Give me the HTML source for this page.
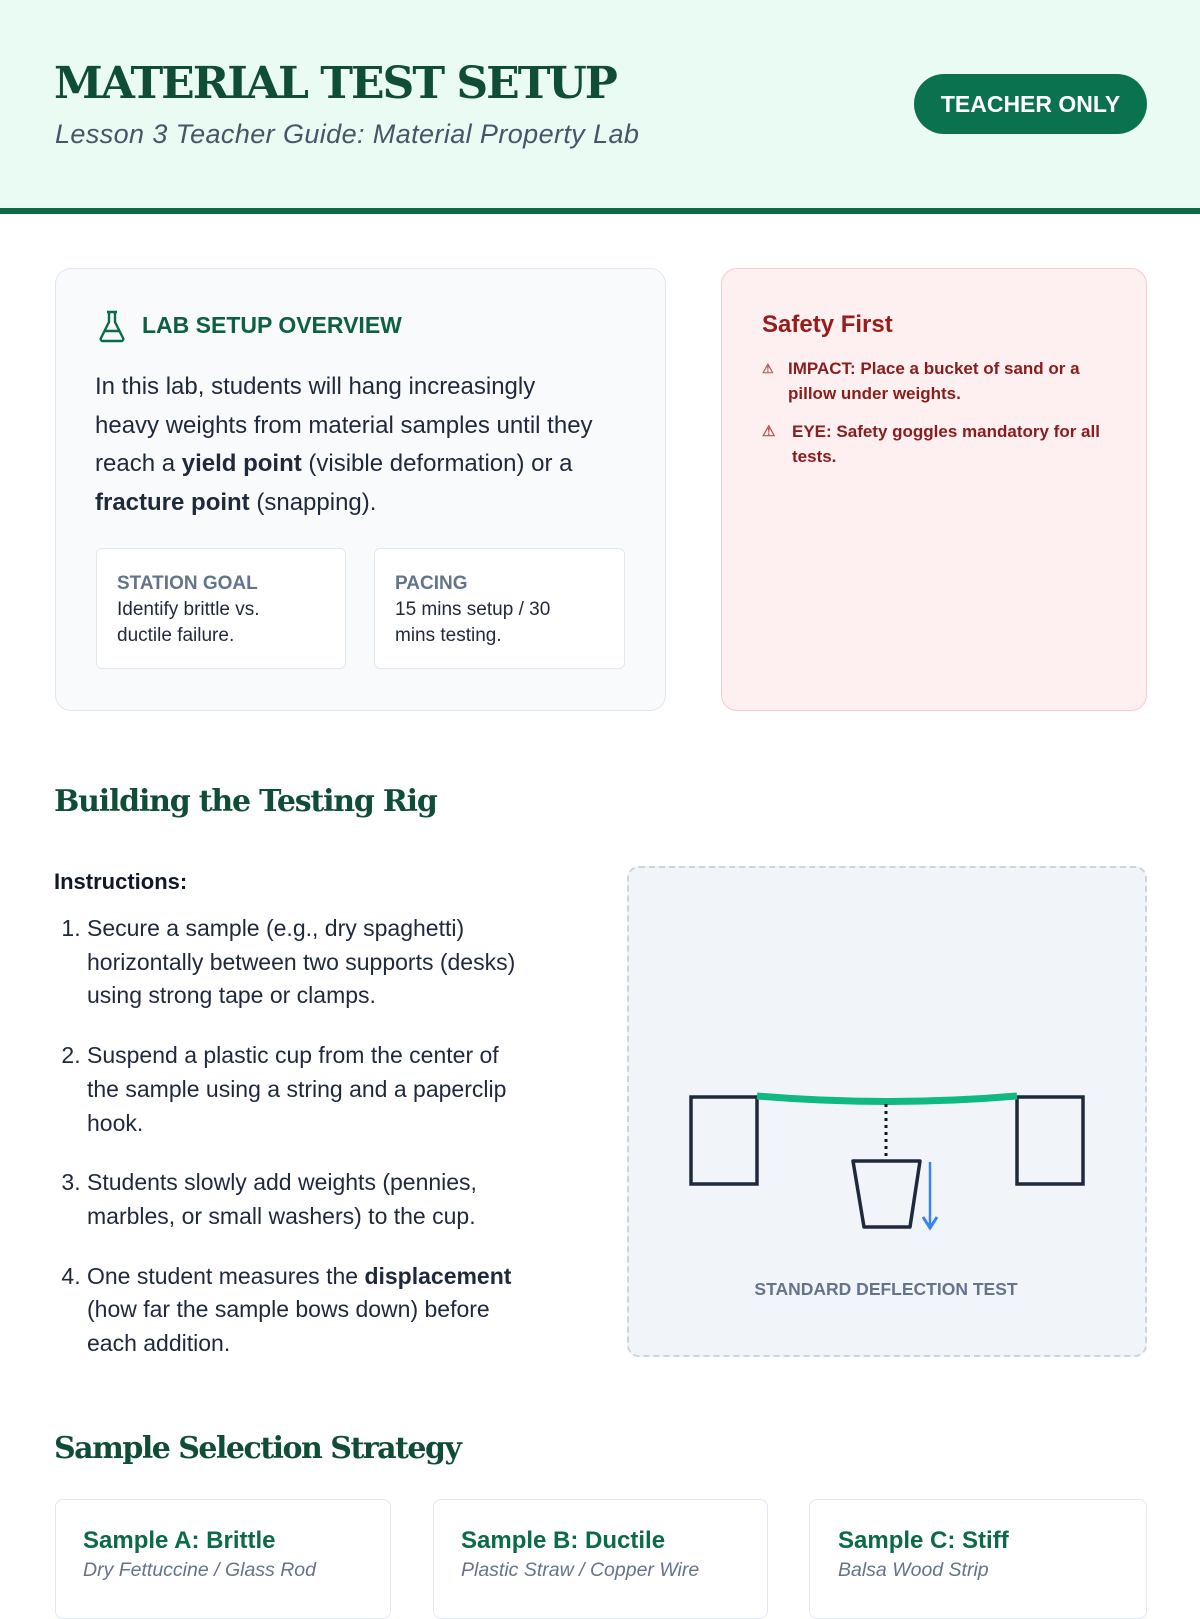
<!DOCTYPE html>
<html><head><meta charset="utf-8"><style>
*{box-sizing:border-box;margin:0;padding:0}
body{width:1200px;height:1600px;background:#fff;font-family:"Liberation Sans",sans-serif;color:#1e293b;position:relative;overflow:hidden}
.abs{position:absolute}
.hdr{left:0;top:0;width:1200px;height:214px;background:#e9fbf3;border-bottom:6px solid #0b6b47}
.serif{font-family:"DejaVu Serif","Liberation Serif",serif;font-weight:bold;color:#0f4d36}
.sub{background:#fff;border:1px solid #e2e8f0;border-radius:6px;padding:22px 20px;font-size:19px;line-height:26px}
</style></head><body>
<div class="abs hdr"></div>
<div class="abs serif" style="left:54px;top:58px;font-size:44px;letter-spacing:-2px">MATERIAL TEST SETUP</div>
<div class="abs" style="left:55px;top:119px;font-size:27px;font-style:italic;color:#475569;letter-spacing:0.4px">Lesson 3 Teacher Guide: Material Property Lab</div>
<div class="abs" style="left:914px;top:74px;width:233px;height:60px;border-radius:30px;background:#0b7250;color:#fff;font-weight:bold;font-size:23px;text-align:center;line-height:60px">TEACHER ONLY</div>

<div class="abs" style="left:55px;top:268px;width:611px;height:443px;background:#f8fafc;border:1px solid #e2e8f0;border-radius:16px"></div>
<svg class="abs" style="left:97px;top:309px" width="30" height="34" viewBox="0 0 30 34"><path d="M10 3h10M12 3v10L4 29a2 2 0 0 0 2 3h18a2 2 0 0 0 2-3L18 13V3M7 22h16" fill="none" stroke="#0b6b47" stroke-width="2.4" stroke-linejoin="round"/></svg>
<div class="abs" style="left:142px;top:312px;font-size:23px;font-weight:bold;color:#0f5f42">LAB SETUP OVERVIEW</div>
<div class="abs" style="left:95px;top:368px;width:505px;font-size:24px;line-height:38.5px;color:#1e293b">In this lab, students will hang increasingly heavy weights from material samples until they reach a <b>yield point</b> (visible deformation) or a <b>fracture point</b> (snapping).</div>
<div class="abs sub" style="left:96px;top:548px;width:250px;height:121px;padding-right:50px"><div style="font-weight:bold;color:#64748b">STATION GOAL</div>Identify brittle vs. ductile failure.</div>
<div class="abs sub" style="left:374px;top:548px;width:251px;height:121px;padding-right:50px"><div style="font-weight:bold;color:#64748b">PACING</div>15 mins setup / 30 mins testing.</div>

<div class="abs" style="left:721px;top:268px;width:426px;height:443px;background:#fef0f0;border:1px solid #fbcaca;border-radius:16px"></div>
<div class="abs" style="left:762px;top:311px;font-size:24px;font-weight:bold;color:#991b1b">Safety First</div>
<div class="abs" style="left:762px;top:356px;width:350px;font-size:17px;font-weight:bold;line-height:25px;color:#8b1c1c"><span style="position:absolute;left:0;font-size:13px;color:#b45454">⚠</span><div style="padding-left:26px">IMPACT: Place a bucket of sand or a pillow under weights.</div></div>
<div class="abs" style="left:762px;top:419px;width:350px;font-size:17px;font-weight:bold;line-height:25px;color:#8b1c1c"><span style="position:absolute;left:0;font-size:15px;color:#b45454">⚠</span><div style="padding-left:30px">EYE: Safety goggles mandatory for all tests.</div></div>

<div class="abs serif" style="left:54px;top:784px;font-size:30px;letter-spacing:-1.2px">Building the Testing Rig</div>
<div class="abs" style="left:54px;top:869px;font-size:22px;font-weight:bold;color:#111827">Instructions:</div>
<ol class="abs" style="left:58px;top:912px;width:469px;font-size:23px;line-height:33.7px;color:#1e293b;padding-left:29px">
<li style="margin-bottom:26px">Secure a sample (e.g., dry spaghetti) horizontally between two supports (desks) using strong tape or clamps.</li>
<li style="margin-bottom:26px">Suspend a plastic cup from the center of the sample using a string and a paperclip hook.</li>
<li style="margin-bottom:26px">Students slowly add weights (pennies, marbles, or small washers) to the cup.</li>
<li>One student measures the <b>displacement</b> (how far the sample bows down) before each addition.</li>
</ol>

<div class="abs" style="left:627px;top:866px;width:520px;height:491px;background:#f1f5f9;border:2.5px dashed #cbd5e1;border-radius:12px"></div>
<svg class="abs" style="left:0;top:0" width="1200" height="1600">
<rect x="691" y="1097" width="66" height="87" fill="none" stroke="#1e293b" stroke-width="3.5"/>
<rect x="1017" y="1097" width="66" height="87" fill="none" stroke="#1e293b" stroke-width="3.5"/>
<path d="M757 1096 Q887 1107 1017 1096" fill="none" stroke="#10b981" stroke-width="7"/>
<line x1="886" y1="1104" x2="886" y2="1160" stroke="#111827" stroke-width="3" stroke-dasharray="3,4"/>
<path d="M853 1161 L920 1161 L910 1227 L864 1227 Z" fill="none" stroke="#1e293b" stroke-width="3.5" stroke-linejoin="round"/>
<line x1="930" y1="1162" x2="930" y2="1226" stroke="#3b82f6" stroke-width="2.5"/>
<path d="M923 1217 L930 1228 L937 1217" fill="none" stroke="#3b82f6" stroke-width="3"/>
<text x="886" y="1295" text-anchor="middle" font-family="Liberation Sans" font-size="17.5" font-weight="bold" fill="#64748b">STANDARD DEFLECTION TEST</text>
</svg>

<div class="abs serif" style="left:54px;top:1431px;font-size:30px;letter-spacing:-1.5px">Sample Selection Strategy</div>
<div class="abs" style="left:55px;top:1499px;width:336px;height:120px;border:1px solid #e2e8f0;border-radius:8px;padding:27px 27px"><div style="font-size:24px;font-weight:bold;color:#0b6b47">Sample A: Brittle</div><div style="font-size:19.5px;font-style:italic;color:#64748b;margin-top:4px">Dry Fettuccine / Glass Rod</div></div>
<div class="abs" style="left:433px;top:1499px;width:335px;height:120px;border:1px solid #e2e8f0;border-radius:8px;padding:27px 27px"><div style="font-size:24px;font-weight:bold;color:#0b6b47">Sample B: Ductile</div><div style="font-size:19.5px;font-style:italic;color:#64748b;margin-top:4px">Plastic Straw / Copper Wire</div></div>
<div class="abs" style="left:809px;top:1499px;width:338px;height:120px;border:1px solid #e2e8f0;border-radius:8px;padding:27px 28px"><div style="font-size:24px;font-weight:bold;color:#0b6b47">Sample C: Stiff</div><div style="font-size:19.5px;font-style:italic;color:#64748b;margin-top:4px">Balsa Wood Strip</div></div>
</body></html>
